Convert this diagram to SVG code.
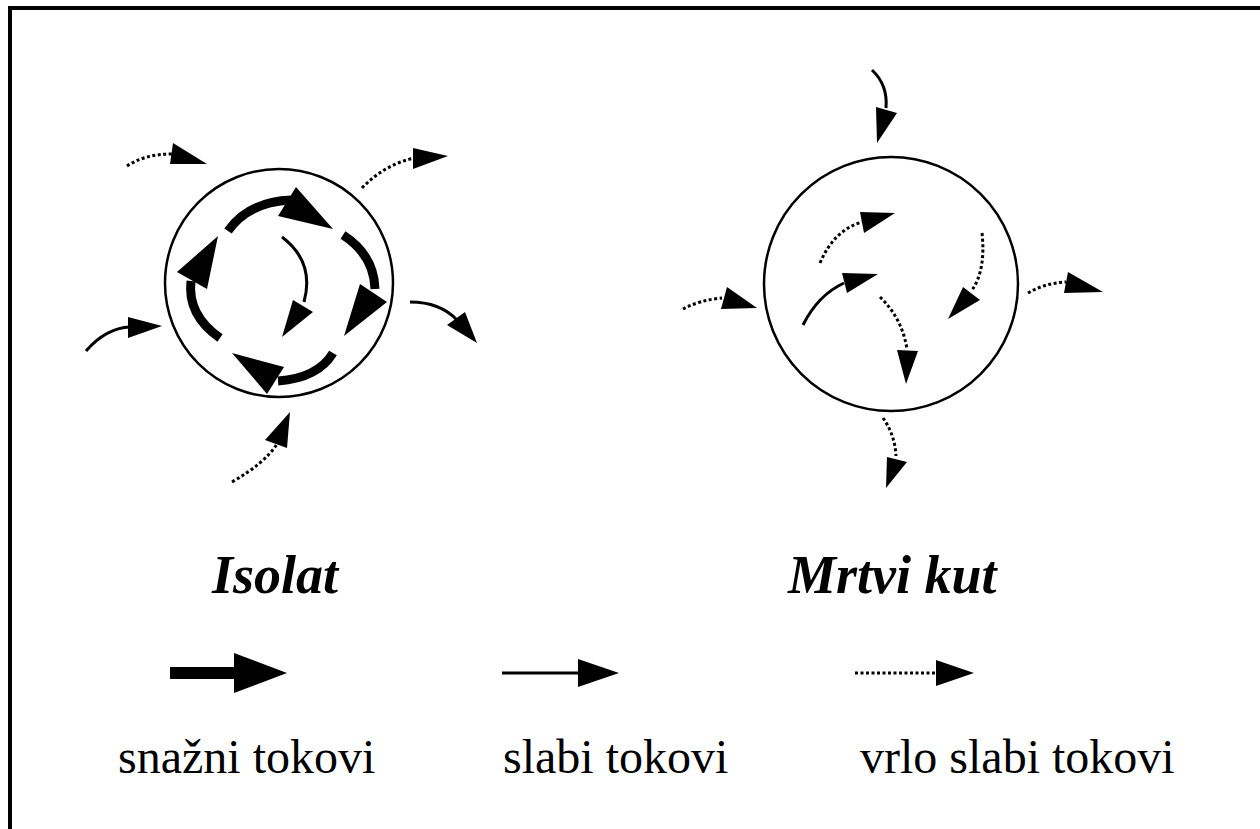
<svg xmlns="http://www.w3.org/2000/svg" width="1260" height="829" viewBox="0 0 1260 829">
<style>
.ring{fill:none;stroke:#000;stroke-width:2.5}
.thick{fill:none;stroke:#000;stroke-width:9}
.thin{fill:none;stroke:#000;stroke-width:3}
.dot{fill:none;stroke:#000;stroke-width:3;stroke-dasharray:3 2.5}
.head{fill:#000;stroke:none}
text{font-family:'Times New Roman','Liberation Serif',Tinos,serif;fill:#000}
.title{font-weight:bold;font-style:italic;font-size:54px}
.lbl{font-size:48px}
</style>
<rect width="1260" height="829" fill="#fff"/>
<path d="M10,829 V8 H1260" fill="none" stroke="#000" stroke-width="4"/>

<g id="isolat">
<circle class="ring" cx="279" cy="283" r="114"/>
<text class="title" x="212" y="593">Isolat</text>
</g>
<g id="mrtvi-kut">
<circle class="ring" cx="891" cy="284" r="127"/>
<text class="title" x="788" y="593">Mrtvi kut</text>
</g>

<g id="connectors">
<path class="thick" d="M228,231 Q248,202 291,200"/>
<polygon class="head" points="296,187 333,229 278,216"/>
<path class="thick" d="M343,235 Q374,255 375,289"/>
<polygon class="head" points="360,284 387,302 344,336"/>
<path class="thick" d="M333,353 Q318,378 278,381"/>
<polygon class="head" points="232,353 284,367 267,394"/>
<path class="thick" d="M220,338 Q187,315 191,281"/>
<polygon class="head" points="177,272 218,236 207,289"/>
<path class="thin" d="M282,237 Q315,262 304,302"/>
<polygon class="head" points="293,300 313,312 282,337"/>
<path class="dot" d="M127,166 Q145,154 172,154"/>
<polygon class="head" points="173,143 207,164 170,164"/>
<path class="dot" d="M362,188 Q385,164 415,158"/>
<polygon class="head" points="413,148 448,156 413,169"/>
<path class="thin" d="M410,302 Q440,302 457,320"/>
<polygon class="head" points="447,325 465,312 477,343"/>
<path class="thin" d="M86,351 Q106,328 130,327"/>
<polygon class="head" points="128,317 162,326 128,338"/>
<path class="dot" d="M232,482 Q265,463 277,444"/>
<polygon class="head" points="265,440 290,412 287,448"/>
<path class="thin" d="M872,70 Q888,85 886,108"/>
<polygon class="head" points="876,107 897,113 877,143"/>
<path class="dot" d="M820,263 Q834,230 862,222"/>
<polygon class="head" points="860,212 895,213 864,233"/>
<path class="thin" d="M803,325 Q818,295 844,283"/>
<polygon class="head" points="842,273 878,274 847,293"/>
<path class="dot" d="M880,297 Q902,318 907,349"/>
<polygon class="head" points="897,350 918,351 906,384"/>
<path class="dot" d="M982,233 Q986,270 972,290"/>
<polygon class="head" points="963,287 980,300 948,319"/>
<path class="dot" d="M683,309 Q700,300 722,298"/>
<polygon class="head" points="727,287 757,308 721,309"/>
<path class="dot" d="M1028,293 Q1045,283 1066,282"/>
<polygon class="head" points="1068,272 1103,292 1064,293"/>
<path class="dot" d="M883,418 Q895,435 896,456"/>
<polygon class="head" points="887,457 907,462 886,488"/>
</g>

<g id="legend">
<line x1="170" y1="673" x2="238" y2="673" stroke="#000" stroke-width="12"/>
<polygon class="head" points="234,653 287,673 234,693"/>
<line x1="502" y1="673" x2="580" y2="673" stroke="#000" stroke-width="3"/>
<polygon class="head" points="578,659 619,673 578,687"/>
<line x1="855" y1="673" x2="938" y2="673" class="dot"/>
<polygon class="head" points="936,660 974,673 936,686"/>
<text class="lbl" x="118" y="773">snažni tokovi</text>
<text class="lbl" x="503" y="773">slabi tokovi</text>
<text class="lbl" x="860" y="773">vrlo slabi tokovi</text>
</g>
</svg>
